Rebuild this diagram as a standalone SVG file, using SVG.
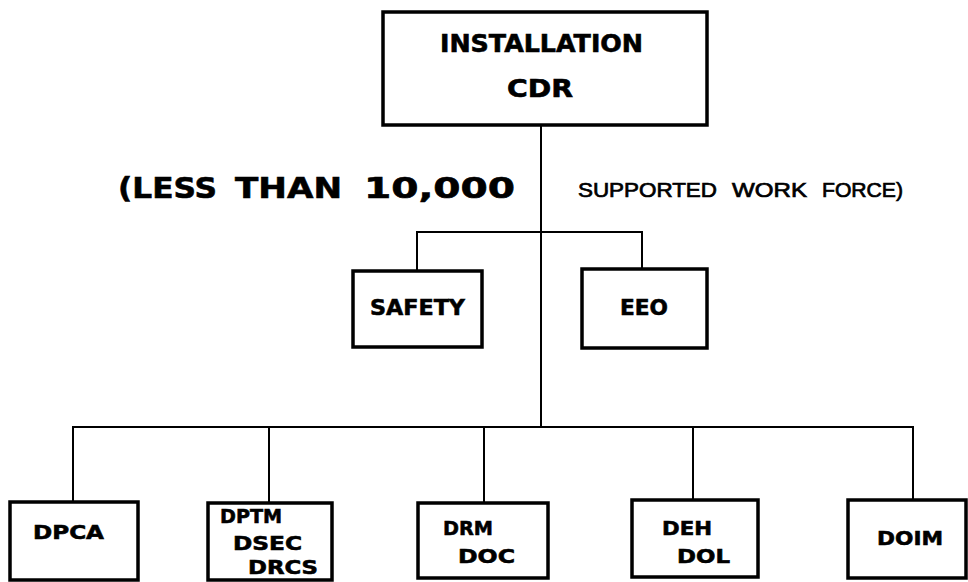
<svg xmlns="http://www.w3.org/2000/svg" width="968" height="582" viewBox="0 0 968 582">
<style>
.box{fill:#fff;stroke:#000;stroke-width:3.5}
.ln{fill:none;stroke:#000;stroke-width:2}
.t{font-family:"DejaVu Sans","Liberation Sans",Arial,sans-serif;font-weight:bold;fill:#000;stroke:#000;stroke-width:0.6}
.s{font-family:"Liberation Sans",Arial,sans-serif;font-weight:normal;fill:#000;stroke:#000;stroke-width:0.7}
</style>
<rect width="968" height="582" fill="#fff"/>
<g id="connectors">
<path class="ln" d="M541 125 V427"/>
<path class="ln" d="M417 271 V232 H642 V269"/>
<path class="ln" d="M73 502 V427 H913 V500"/>
<path class="ln" d="M269 427 V503"/>
<path class="ln" d="M484 427 V503"/>
<path class="ln" d="M693 427 V500"/>
</g>
<g id="caption">
<text class="t" font-size="29" x="118" y="198" textLength="99" lengthAdjust="spacingAndGlyphs">(LESS</text>
<text class="t" font-size="29" x="235" y="198" textLength="107" lengthAdjust="spacingAndGlyphs">THAN</text>
<text class="t" font-size="29" x="364" y="198" textLength="151" lengthAdjust="spacingAndGlyphs">10,000</text>
<text class="s" font-size="20" x="578" y="197" textLength="139" lengthAdjust="spacingAndGlyphs">SUPPORTED</text>
<text class="s" font-size="20" x="732" y="197" textLength="75" lengthAdjust="spacingAndGlyphs">WORK</text>
<text class="s" font-size="20" x="822" y="197" textLength="81" lengthAdjust="spacingAndGlyphs">FORCE)</text>
</g>
<g id="installation-cdr">
<rect class="box" x="383" y="12" width="324" height="113"/>
<text class="t" font-size="24" x="440" y="52" textLength="203" lengthAdjust="spacingAndGlyphs">INSTALLATION</text>
<text class="t" font-size="24" x="507" y="97" textLength="66" lengthAdjust="spacingAndGlyphs">CDR</text>
</g>
<g id="safety">
<rect class="box" x="353" y="271" width="129" height="76"/>
<text class="t" font-size="22" x="370" y="315" textLength="95" lengthAdjust="spacingAndGlyphs">SAFETY</text>
</g>
<g id="eeo">
<rect class="box" x="582" y="269" width="125" height="79"/>
<text class="t" font-size="22" x="620" y="315" textLength="48" lengthAdjust="spacingAndGlyphs">EEO</text>
</g>
<g id="dpca">
<rect class="box" x="10" y="502" width="128" height="78"/>
<text class="t" font-size="19" x="33" y="539" textLength="71" lengthAdjust="spacingAndGlyphs">DPCA</text>
</g>
<g id="dptm">
<rect class="box" x="208" y="503" width="124" height="77"/>
<text class="t" font-size="19" x="220" y="523" textLength="62" lengthAdjust="spacingAndGlyphs">DPTM</text>
<text class="t" font-size="19" x="233" y="550" textLength="69" lengthAdjust="spacingAndGlyphs">DSEC</text>
<text class="t" font-size="19" x="248" y="574" textLength="70" lengthAdjust="spacingAndGlyphs">DRCS</text>
</g>
<g id="drm">
<rect class="box" x="418" y="503" width="130" height="75"/>
<text class="t" font-size="20" x="443" y="535" textLength="50" lengthAdjust="spacingAndGlyphs">DRM</text>
<text class="t" font-size="20" x="458" y="563" textLength="57" lengthAdjust="spacingAndGlyphs">DOC</text>
</g>
<g id="deh">
<rect class="box" x="632" y="500" width="126" height="77"/>
<text class="t" font-size="20" x="662" y="535" textLength="50" lengthAdjust="spacingAndGlyphs">DEH</text>
<text class="t" font-size="20" x="677" y="563" textLength="53" lengthAdjust="spacingAndGlyphs">DOL</text>
</g>
<g id="doim">
<rect class="box" x="848" y="500" width="118" height="78"/>
<text class="t" font-size="20" x="877" y="545" textLength="66" lengthAdjust="spacingAndGlyphs">DOIM</text>
</g>
</svg>
